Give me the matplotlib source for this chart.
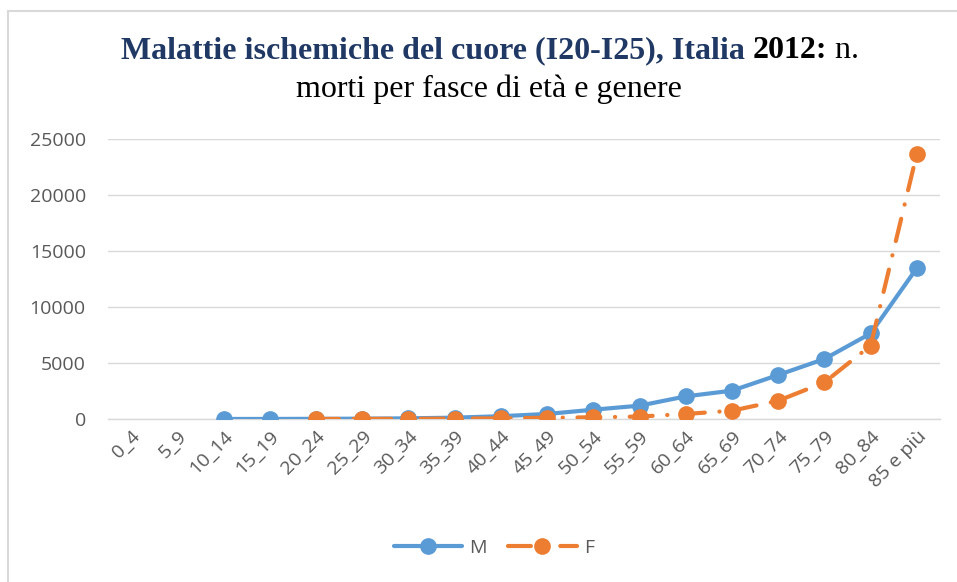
import matplotlib
matplotlib.use("Agg")
import matplotlib.pyplot as plt
from matplotlib.patches import Rectangle
import numpy as np

categories = ["0_4", "5_9", "10_14", "15_19", "20_24", "25_29", "30_34", "35_39",
              "40_44", "45_49", "50_54", "55_59", "60_64", "65_69", "70_74",
              "75_79", "80_84", "85 e più"]
M = [None, None, 2, 5, 15, 30, 60, 120, 250, 450, 830, 1190, 2020, 2530, 3930,
     5360, 7640, 13480]
F = [None, None, None, None, 3, 6, 12, 30, 60, 110, 150, 220, 450, 740, 1630,
     3270, 6560, 23700]
yticks = [0, 5000, 10000, 15000, 20000, 25000]

W, H = 957, 582
fig = plt.figure(figsize=(W / 100, H / 100), dpi=100)
ax = fig.add_axes([108 / W, 1 - 419 / H, (940 - 108) / W, (419 - 139) / H])

blue = "#5B9BD5"
orange = "#ED7D31"
x = np.arange(len(categories))
mv = np.array([np.nan if v is None else v for v in M], dtype=float)
fv = np.array([np.nan if v is None else v for v in F], dtype=float)

ax.plot(x, mv, color=blue, lw=3, marker="o", ms=11, solid_capstyle="round",
        zorder=3, label="M")
ax.plot(x, fv, color=orange, lw=3, marker="o", ms=11,
        linestyle=(0, (5.5, 3.5, 0.05, 3.5)), dash_capstyle="round", zorder=4,
        label="F")

ax.set_xlim(-0.5, len(categories) - 0.5)
ax.set_ylim(0, 25000)
ax.set_yticks(yticks)
ax.set_yticklabels([str(v) for v in yticks])
ax.set_xticks(x)
ax.set_xticklabels(categories, rotation=45, ha="right", va="top",
                   rotation_mode="anchor")
ax.grid(axis="y", color="#D9D9D9", lw=1)
ax.set_axisbelow(True)
for s in ["top", "right", "left"]:
    ax.spines[s].set_visible(False)
ax.spines["bottom"].set_color("#D9D9D9")
ax.spines["bottom"].set_linewidth(1)
ax.tick_params(axis="both", length=0, colors="#595959", labelsize=14)
ax.tick_params(axis="y", pad=16)
ax.tick_params(axis="x", pad=6)
for lab in ax.get_xticklabels() + ax.get_yticklabels():
    lab.set_fontfamily("Open Sans")
    lab.set_color("#595959")

leg = fig.legend(handles=ax.get_lines(), labels=["M", "F"], loc="center",
                 bbox_to_anchor=(494 / W, 1 - 548 / H), ncol=2, frameon=False,
                 handlelength=3.5, columnspacing=1.1, handletextpad=0.4,
                 prop={"family": "Open Sans", "size": 14})
for t in leg.get_texts():
    t.set_color("#595959")

# border
fig.patches.append(Rectangle((8 / W, -0.1), (W - 8 + 20) / W, 1 - 11 / H + 0.1,
                             transform=fig.transFigure, fill=False,
                             edgecolor="#D9D9D9", lw=1.5))

# title with mixed styles
navy = "#1F3864"
tf = "Liberation Serif"
fs = 23
parts = [("Malattie ischemiche del cuore (I20-I25), Italia ", "bold", navy),
         ("2012:", "bold", "black"),
         (" n.", "normal", "black")]
texts = []
for s, w, c in parts:
    texts.append(fig.text(0, 1 - 58 / H, s, fontsize=fs, fontweight=w, color=c,
                          family=tf, va="baseline", ha="left"))
fig.canvas.draw()
r = fig.canvas.get_renderer()
widths = [t.get_window_extent(r).width for t in texts]
total = sum(widths)
xs = 490 - total / 2
for t, wd in zip(texts, widths):
    t.set_x(xs / W)
    xs += wd
fig.text(489 / W, 1 - 97 / H, "morti per fasce di età e genere", fontsize=fs,
         family=tf, color="black", ha="center", va="baseline")

fig.savefig("out.png", dpi=100)
